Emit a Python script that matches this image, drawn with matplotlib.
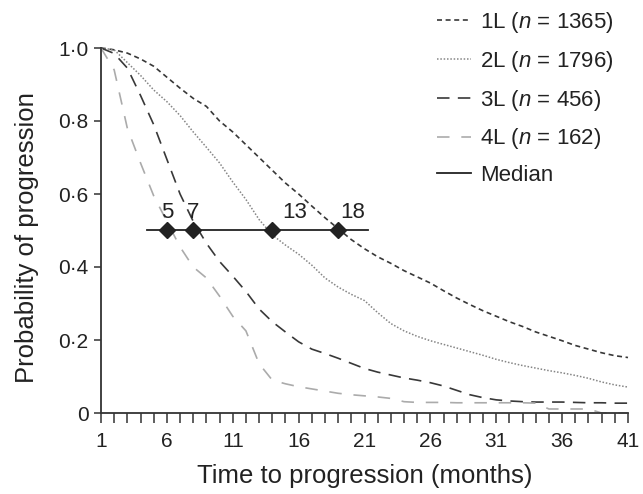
import numpy as np
import matplotlib
matplotlib.use("Agg")
import matplotlib.pyplot as plt

plt.rcParams['font.family'] = ['Liberation Sans', 'DejaVu Sans']
plt.rcParams['mathtext.fontset'] = 'custom'
plt.rcParams['mathtext.it'] = 'Liberation Sans:italic'
plt.rcParams['mathtext.rm'] = 'Liberation Sans'
plt.rcParams['lines.scale_dashes'] = False

# months since start (axis is labelled month + 1)
months = np.arange(0, 41)

line1 = [1.0, 0.995, 0.986, 0.97, 0.95, 0.92, 0.89, 0.862, 0.84, 0.80,
         0.77, 0.735, 0.70, 0.665, 0.63, 0.60, 0.567, 0.535, 0.505, 0.475,
         0.45, 0.428, 0.41, 0.39, 0.373, 0.356, 0.335, 0.315, 0.297, 0.28,
         0.265, 0.25, 0.237, 0.222, 0.21, 0.198, 0.185, 0.175, 0.165, 0.157,
         0.152]
line2 = [1.0, 0.995, 0.96, 0.925, 0.885, 0.853, 0.815, 0.77, 0.728, 0.685,
         0.633, 0.585, 0.53, 0.488, 0.46, 0.435, 0.405, 0.37, 0.345, 0.325,
         0.308, 0.275, 0.245, 0.225, 0.21, 0.198, 0.188, 0.178, 0.168, 0.158,
         0.147, 0.138, 0.13, 0.123, 0.116, 0.11, 0.103, 0.095, 0.085, 0.077,
         0.071]
line3 = [1.0, 0.985, 0.945, 0.87, 0.79, 0.695, 0.60, 0.525, 0.465, 0.415,
         0.375, 0.333, 0.285, 0.25, 0.222, 0.195, 0.175, 0.163, 0.15, 0.136,
         0.122, 0.112, 0.104, 0.096, 0.09, 0.083, 0.074, 0.062, 0.05, 0.042,
         0.036, 0.033, 0.031, 0.03, 0.03, 0.03, 0.029, 0.028, 0.028, 0.027,
         0.027]
line4 = [1.0, 0.94, 0.78, 0.685, 0.595, 0.525, 0.455, 0.40, 0.37, 0.32,
         0.265, 0.225, 0.135, 0.09, 0.08, 0.072, 0.066, 0.06, 0.054, 0.05,
         0.047, 0.044, 0.04, 0.031, 0.029, 0.029, 0.029, 0.028, 0.028, 0.028,
         0.028, 0.028, 0.028, 0.027, 0.011, 0.011, 0.011, 0.011, 0.0, 0.0,
         0.0]

labels = [r'1L ($\it{n}$ = 1365)', r'2L ($\it{n}$ = 1796)',
          r'3L ($\it{n}$ = 456)', r'4L ($\it{n}$ = 162)']
medians = [5, 7, 13, 18]
median_span = [3.5, 20.3]

fig = plt.figure(figsize=(6.43, 4.94), dpi=100)
ax = fig.add_axes([101 / 643, 81 / 494, 527 / 643, 365 / 494])

ax.plot(months, line1, color='#383838', lw=1.2, ls=(0, (3.6, 2.6)), label=labels[0], clip_on=False)
ax.plot(months, line2, color='#858585', lw=1.1, ls=(0, (1.1, 1.3)), label=labels[1], clip_on=False)
ax.plot(months, line3, color='#383838', lw=1.2, ls=(0, (9.0, 6.0)), label=labels[2], clip_on=False)
ax.plot(months, line4, color='#ababab', lw=1.2, ls=(0, (9.0, 8.5)), label=labels[3], clip_on=False)

ax.plot(median_span, [0.5, 0.5], color='#222222', lw=1.3, label='Median')
ax.plot(medians, [0.5] * len(medians), ls='none', marker='D', ms=8,
        color='#222222', zorder=5)
offsets = [(0, 8, 'center'), (0, 8, 'center'), (10, 8, 'left'), (2, 8, 'left')]
for m, (dx, dy, ha) in zip(medians, offsets):
    ax.annotate(str(m), (m, 0.5), xytext=(dx, dy), textcoords='offset pixels',
                ha=ha, va='bottom', fontsize=16, color='#222222')

ax.set_xlim(0, 40)
ax.set_ylim(0, 1.0)
ax.set_xticks(np.arange(0, 41))
ax.set_xticklabels([str(i + 1) if i % 5 == 0 else '' for i in range(41)])
ax.set_yticks([0, 0.2, 0.4, 0.6, 0.8, 1.0])
ax.set_yticklabels(['0', '0·2', '0·4', '0·6', '0·8', '1·0'])
ax.tick_params(axis='x', direction='out', length=7, width=1.1, color='#333333',
               labelsize=15, labelcolor='#222222', pad=7)
ax.tick_params(axis='y', direction='out', length=5, width=1.1, color='#333333',
               labelsize=15, labelcolor='#222222', pad=4)
for side in ['top', 'right']:
    ax.spines[side].set_visible(False)
for side in ['left', 'bottom']:
    ax.spines[side].set_color('#333333')
    ax.spines[side].set_linewidth(1.3)

ax.set_xlabel('Time to progression (months)', fontsize=18.5, color='#222222', labelpad=9)
ax.set_ylabel('Probability of progression', fontsize=18.5, color='#222222')
ax.yaxis.set_label_coords(-0.117, 0.48)

fig.legend(loc='upper left', bbox_to_anchor=(437 / 643, 1 - 10 / 494),
           frameon=False, fontsize=16, handlelength=1.55, handletextpad=0.4,
           labelspacing=0.62, borderpad=0, borderaxespad=0, labelcolor='#222222')

fig.savefig('out.png', dpi=100)
